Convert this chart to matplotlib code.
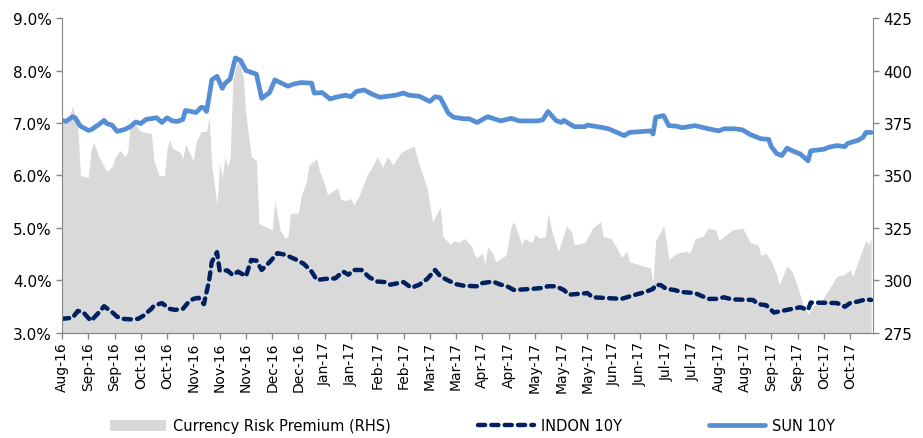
import matplotlib.pyplot as plt
from matplotlib.ticker import FuncFormatter

# business-day index (0 = late Aug 2016), readings taken off the chart
sun_days = [0, 1.5, 4, 5, 7, 10, 11, 14, 16, 17, 19, 21, 24, 26, 28, 30, 32, 36, 38, 40,
            42, 44, 46, 47, 51, 53, 54, 55, 56, 57, 59, 61, 62, 64, 66, 68, 70, 74, 76, 79,
            81, 86, 88, 91, 95, 96, 99, 102, 105, 108, 110, 112, 115, 118, 121, 127, 130, 132, 136, 140,
            142, 144, 147, 149, 153, 155, 158, 162, 167, 171, 174, 181, 183, 185, 188, 190, 191, 195, 199, 200,
            205, 208, 214, 216, 224, 225, 226, 229, 231, 234, 236, 241, 246, 250, 252, 256, 259, 262, 266, 269,
            270, 272, 274, 276, 278, 281, 284, 285, 290, 292, 295, 298, 299, 303, 305, 306, 308]
sun_10y = [7.05, 7.03, 7.12, 7.10, 6.94, 6.86, 6.87, 6.97, 7.05, 6.99, 6.96, 6.84, 6.88, 6.93, 7.02, 6.99, 7.07, 7.10, 7.01, 7.10,
           7.04, 7.03, 7.07, 7.24, 7.20, 7.30, 7.29, 7.22, 7.50, 7.82, 7.89, 7.66, 7.75, 7.84, 8.24, 8.19, 8.00, 7.93, 7.47, 7.58,
           7.82, 7.70, 7.74, 7.77, 7.76, 7.57, 7.58, 7.46, 7.50, 7.53, 7.50, 7.60, 7.63, 7.55, 7.49, 7.53, 7.57, 7.53, 7.51, 7.41,
           7.50, 7.48, 7.19, 7.11, 7.08, 7.08, 7.01, 7.12, 7.04, 7.09, 7.04, 7.04, 7.06, 7.22, 7.05, 7.01, 7.05, 6.93, 6.93, 6.96,
           6.92, 6.89, 6.76, 6.82, 6.85, 6.79, 7.11, 7.14, 6.95, 6.94, 6.91, 6.95, 6.89, 6.85, 6.89, 6.89, 6.87, 6.78, 6.70, 6.69,
           6.55, 6.42, 6.38, 6.52, 6.47, 6.41, 6.28, 6.47, 6.50, 6.54, 6.57, 6.55, 6.61, 6.67, 6.73, 6.82, 6.82]

indon_days = [0, 4, 6, 8, 11, 14, 16, 19, 21, 23, 26, 29, 31, 34, 35, 38, 41, 43, 46, 48,
              50, 52, 54, 56, 57, 59, 60, 63, 65, 67, 70, 72, 74, 76, 79, 82, 85, 89, 92, 95,
              97, 100, 104, 107, 109, 111, 114, 117, 120, 123, 125, 130, 133, 136, 139, 142, 144, 147, 150, 153,
              158, 160, 164, 167, 169, 172, 179, 183, 185, 188, 191, 193, 200, 202, 213, 215, 219, 222, 225, 226,
              228, 230, 233, 236, 241, 246, 249, 252, 255, 263, 265, 268, 271, 274, 281, 284, 285, 295, 298, 300,
              303, 306, 308]
indon_10y = [3.27, 3.29, 3.42, 3.40, 3.23, 3.39, 3.51, 3.40, 3.31, 3.27, 3.26, 3.27, 3.33, 3.46, 3.52, 3.57, 3.46, 3.44, 3.46, 3.58,
             3.65, 3.67, 3.55, 4.00, 4.35, 4.54, 4.19, 4.19, 4.10, 4.17, 4.08, 4.39, 4.38, 4.20, 4.35, 4.52, 4.49, 4.40, 4.32, 4.17,
             4.01, 4.03, 4.04, 4.17, 4.11, 4.20, 4.20, 4.06, 3.98, 3.97, 3.92, 3.97, 3.86, 3.92, 4.03, 4.20, 4.08, 4.00, 3.93, 3.90,
             3.89, 3.95, 3.98, 3.92, 3.90, 3.82, 3.84, 3.86, 3.89, 3.89, 3.82, 3.73, 3.76, 3.68, 3.65, 3.68, 3.74, 3.78, 3.84, 3.92,
             3.91, 3.84, 3.82, 3.78, 3.76, 3.65, 3.65, 3.68, 3.64, 3.63, 3.55, 3.53, 3.39, 3.42, 3.49, 3.44, 3.58, 3.57, 3.50, 3.57,
             3.60, 3.64, 3.63]

crp_days = [0, 1.5, 3, 4, 6, 7, 10, 11, 12, 14, 17, 19, 20, 22, 24, 25, 26, 28, 30, 34,
            35, 37, 39, 40, 41, 42, 45, 46, 47, 50, 51, 53, 55, 56, 57, 59, 60, 61, 62, 63,
            64, 65, 67, 69, 70, 72, 74, 75, 77, 80, 81, 82, 83, 85, 86, 87, 89, 90, 91, 93,
            94, 97, 98, 100, 101, 105, 106, 108, 110, 111, 113, 116, 118, 120, 122, 124, 126, 129, 132, 134,
            136, 139, 141, 144, 145, 148, 149, 151, 153, 154, 156, 157, 158, 160, 161, 162, 164, 165, 169, 171,
            172, 175, 176, 179, 180, 182, 184, 185, 187, 189, 192, 194, 195, 199, 202, 205, 206, 209, 211, 213,
            215, 216, 221, 224, 225, 226, 229, 230, 231, 234, 238, 239, 241, 244, 246, 249, 250, 253, 255, 259,
            260, 262, 265, 266, 268, 270, 272, 273, 274, 276, 278, 280, 282, 284, 286, 289, 292, 295, 298, 300,
            301, 303, 306, 307, 308]
crp = [376, 375, 379, 383, 373, 350, 349, 362, 366, 359, 352, 354, 358, 362, 359, 361, 375, 374, 371, 370,
       357, 350, 350, 363, 367, 363, 361, 358, 365, 357, 366, 371, 371, 378, 355, 336, 356, 349, 359, 354,
       358, 395, 406, 397, 379, 359, 357, 327, 326, 324, 338, 331, 324, 320, 321, 332, 332, 332, 340, 347,
       355, 358, 352, 346, 341, 344, 339, 338, 339, 336, 340, 350, 354, 359, 354, 359, 355, 361, 363, 364,
       355, 344, 328, 335, 321, 317, 319, 318, 320, 319, 316, 312, 311, 313, 308, 316, 313, 309, 312, 326,
       328, 317, 320, 318, 322, 320, 321, 332, 321, 314, 326, 323, 317, 318, 325, 328, 321, 320, 316, 311,
       314, 309, 307, 306, 299, 319, 326, 319, 310, 313, 314, 313, 320, 321, 325, 324, 319, 322, 324, 325,
       323, 318, 317, 312, 313, 309, 303, 298, 301, 307, 304, 297, 289, 284, 288, 290, 296, 302, 303, 305,
       302, 309, 319, 317, 320]

tick_labels = ['Aug-16', 'Sep-16', 'Sep-16', 'Oct-16', 'Oct-16', 'Nov-16', 'Nov-16', 'Nov-16',
               'Dec-16', 'Dec-16', 'Jan-17', 'Jan-17', 'Feb-17', 'Feb-17', 'Mar-17', 'Mar-17',
               'Apr-17', 'Apr-17', 'May-17', 'May-17', 'May-17', 'Jun-17', 'Jun-17', 'Jul-17',
               'Jul-17', 'Aug-17', 'Aug-17', 'Sep-17', 'Sep-17', 'Oct-17', 'Oct-17']
tick_pos = [i * 10 for i in range(len(tick_labels))]

plt.rcParams['font.family'] = ['DejaVu Sans']
axis_grey = '#868686'

fig, ax = plt.subplots(figsize=(9.23, 4.39), dpi=100)
fig.subplots_adjust(left=0.0672, right=0.9458, top=0.9567, bottom=0.2392)
ax2 = ax.twinx()

# grey area on the right axis, drawn underneath the yield lines
area = ax2.fill_between(crp_days, 275, crp, color='#d9d9d9', linewidth=0,
                        label='Currency Risk Premium (RHS)')
ax2.set_ylim(275, 425)
ax2.set_yticks([275, 300, 325, 350, 375, 400, 425])

ax.set_zorder(ax2.get_zorder() + 1)
ax.patch.set_visible(False)

l_indon, = ax.plot(indon_days, indon_10y, color='#002060', linewidth=3.2,
                   linestyle=(0, (1.6, 1.4)), dash_capstyle='round', label='INDON 10Y')
l_sun, = ax.plot(sun_days, sun_10y, color='#558ed5', linewidth=3.4,
                 solid_capstyle='round', label='SUN 10Y')

ax.set_ylim(3.0, 9.0)
ax.set_yticks([3, 4, 5, 6, 7, 8, 9])
ax.yaxis.set_major_formatter(FuncFormatter(lambda v, p: '%.1f%%' % v))
ax.set_xlim(0, 308.7)
ax.set_xticks(tick_pos)
ax.set_xticklabels(tick_labels, rotation=90)

for a in (ax, ax2):
    for s in a.spines.values():
        s.set_color(axis_grey)
    a.spines['top'].set_visible(False)
    a.tick_params(colors=axis_grey, labelcolor='black', length=4, width=1, labelsize=10.5)
ax.spines['right'].set_visible(False)
ax2.spines['left'].set_visible(False)
ax.tick_params(axis='x', labelsize=10, pad=2)
ax.tick_params(axis='y', labelsize=11)
ax2.tick_params(axis='y', labelsize=11)

fig.legend([area, l_indon, l_sun],
           ['Currency Risk Premium (RHS)', 'INDON 10Y', 'SUN 10Y'],
           loc='center', bbox_to_anchor=(0.512, 1 - 427 / 439), ncol=3, frameon=False,
           fontsize=10.5, handlelength=3.8, handletextpad=0.5, columnspacing=6.0)

fig.savefig('out.png', dpi=100)
